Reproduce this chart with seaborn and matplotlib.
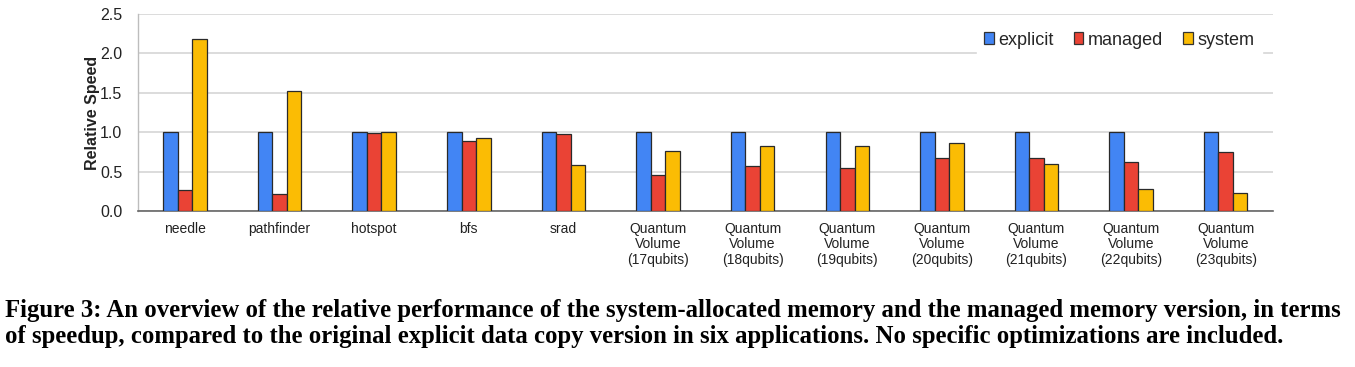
import matplotlib
matplotlib.use('Agg')
import matplotlib.pyplot as plt
import seaborn as sns
import pandas as pd
from matplotlib.patches import Patch

# data
apps = ['needle', 'pathfinder', 'hotspot', 'bfs', 'srad',
        'Quantum\nVolume\n(17qubits)', 'Quantum\nVolume\n(18qubits)',
        'Quantum\nVolume\n(19qubits)', 'Quantum\nVolume\n(20qubits)',
        'Quantum\nVolume\n(21qubits)', 'Quantum\nVolume\n(22qubits)',
        'Quantum\nVolume\n(23qubits)']
explicit = [1.0, 1.0, 1.0, 1.0, 1.0, 1.0, 1.0, 1.0, 1.0, 1.0, 1.0, 1.0]
managed = [0.27, 0.22, 0.99, 0.89, 0.98, 0.46, 0.57, 0.55, 0.67, 0.67, 0.62, 0.755]
system = [2.18, 1.53, 1.0, 0.93, 0.59, 0.76, 0.83, 0.83, 0.87, 0.60, 0.28, 0.235]
versions = ['explicit', 'managed', 'system']
colors = ['#4285F4', '#EA4335', '#FBBC04']
yticks = [0.0, 0.5, 1.0, 1.5, 2.0, 2.5]

caption1 = ('Figure 3: An overview of the relative performance of the system-allocated memory '
            'and the managed memory version, in terms')
caption2 = ('of speedup, compared to the original explicit data copy version in six applications. '
            'No specific optimizations are included.')

df = pd.DataFrame({'app': apps * 3,
                   'version': [v for v in versions for _ in apps],
                   'speed': explicit + managed + system})

sns.set_theme(style='white')
plt.rcParams['font.family'] = ['Liberation Sans', 'DejaVu Sans']

fig = plt.figure(figsize=(13.55, 3.67), dpi=100)
ax = fig.add_axes([0.1016, 0.4243, 0.8379, 0.5376])

sns.barplot(data=df, x='app', y='speed', hue='version', hue_order=versions,
            palette=colors, width=0.46, gap=0, saturation=1,
            edgecolor='#2a2a2a', linewidth=0.9, ax=ax, zorder=3)

ax.set_ylim(0, 2.5)
ax.set_xlim(-0.5, len(apps) - 0.5)
ax.set_yticks(yticks)
ax.set_yticklabels([f'{t:.1f}' for t in yticks], fontsize=11.5, color='#222222')
ax.tick_params(axis='x', labelsize=10, colors='#222222', length=0, pad=8)
ax.tick_params(axis='y', length=0, pad=11)
for lbl in ax.get_xticklabels():
    lbl.set_linespacing(1.1)
ax.set_xlabel('')
ax.set_ylabel('Relative Speed', fontsize=11.5, fontweight='bold', color='#222222', labelpad=0)

ax.yaxis.grid(True, color='#d9d9d9', linewidth=1.3, zorder=0)
ax.set_axisbelow(True)
for side in ['top', 'right']:
    ax.spines[side].set_visible(False)
ax.spines['left'].set_color('#bdbdbd')
ax.spines['left'].set_linewidth(1.0)
ax.spines['bottom'].set_color('#666666')
ax.spines['bottom'].set_linewidth(1.2)

handles = [Patch(facecolor=c, edgecolor='#333333', linewidth=0.9) for c in colors]
ax.legend(handles, versions, loc='center right', bbox_to_anchor=(0.998, 0.868),
          ncol=3, fontsize=13, frameon=True, facecolor='white', edgecolor='white',
          framealpha=1, fancybox=False, handlelength=0.55, handleheight=0.6,
          handletextpad=0.25, columnspacing=1.1, borderpad=0.4)

fig.text(0.004, 1 - 311 / 367, caption1, fontfamily='Liberation Serif', fontweight='bold',
         fontsize=17.85, va='center', ha='left', color='black')
fig.text(0.004, 1 - 336 / 367, caption2, fontfamily='Liberation Serif', fontweight='bold',
         fontsize=17.85, va='center', ha='left', color='black')

fig.savefig('out.png', dpi=100)
